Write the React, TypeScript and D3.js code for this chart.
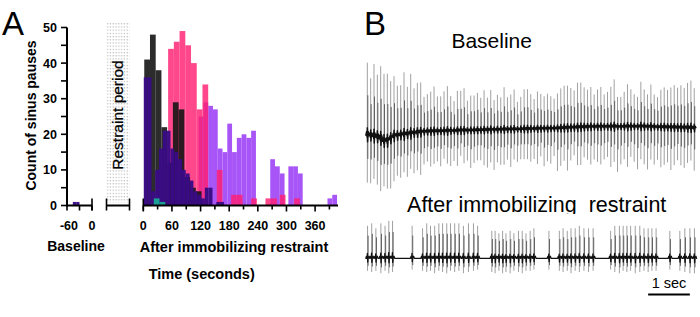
import React from 'react';
import * as d3 from 'd3';

// ---------------- Panel A: histogram data (bin start in seconds, counts) ----------------
const lightPurpleStarts = [116, 126, 136, 146, 156, 166, 176, 186, 196, 206, 216, 226, 266, 276, 286, 304, 314, 324, 386, 396];
const lightPurpleCounts = [25, 29, 28, 27, 16, 15, 23, 15, 19, 20, 19, 21, 13, 11, 9, 11, 11, 9, 2, 3];
const lightPurpleWidth = 10;

const pinkStarts = [52, 64, 76, 88, 100, 112, 124, 154, 184, 196, 226, 256, 268, 286, 316];
const pinkCounts = [44, 46, 49, 45, 40, 27, 34, 10, 3, 3, 2, 2, 2, 3, 2];
const pinkWidth = 12;

const blackStarts = [2, 14, 26, 38, 50, 62, 74, 86, 98, 110];
const blackCounts = [41, 48, 38, 22, 12, 29, 27, 8, 5, 4];
const blackWidth = 12;

const darkPurpleStarts = [1, 9, 17, 25, 33, 41, 49, 57, 65, 73, 81, 89, 97, 105, 113, 121, 129, 137, 153, 161];
const darkPurpleCounts = [36, 36, 4, 10, 16, 21, 21, 16, 15, 13, 10, 9, 7, 4, 3, 2, 5, 5, 1, 1];
const darkPurpleWidth = 8;

const tealStarts = [22, 34];
const tealCounts = [2, 1];
const tealWidth = 12;

const baselineBinStarts = [-46, -38];
const baselineBinCounts = [1, 1];
const baselineBinWidth = 8;

const yTicks = [0, 5, 10, 15, 20, 25, 30, 35, 40, 45, 50];
const yTickLabels = [0, 10, 20, 30, 40, 50];
const baseXTicks = [-60, -30, 0];
const baseXLabels = [-60, 0];
const afterXTicks = [0, 30, 60, 90, 120, 150, 180, 210, 240, 270, 300, 330, 360, 390];
const afterXLabels = [0, 60, 120, 180, 240, 300, 360];

// ---------------- Panel B: ECG data (mV, seconds) ----------------
const baselineRR = 0.08;
const baselineFirstBeat = 0.015;
const baselineTops = [
  2.9, 2.3, 2.9, 2.5, 2.9, 2.7, 2.7, 2.3, 2.4, 2.0,
  2.0, 2.5, 1.9, 2.4, 1.8, 2.0, 2.0, 1.4, 1.5, 1.6,
  1.8, 1.4, 1.4, 1.6, 1.8, 1.4, 1.2, 1.6, 1.6, 1.7,
  1.2, 1.4, 1.4, 1.5, 1.3, 1.6, 1.3, 1.6, 1.2, 1.4,
  1.3, 1.7, 1.3, 1.4, 1.6, 1.1, 1.3, 1.6, 1.6, 1.4,
  1.2, 1.5, 1.4, 1.3, 1.4, 1.3, 1.2, 1.4, 1.6, 1.7,
  1.7, 1.6, 1.5, 1.8, 1.8, 1.6, 1.5, 1.6, 1.3, 1.5,
  1.6, 1.3, 1.4, 1.6, 1.9, 1.2, 1.2, 1.4, 1.7, 1.5,
  1.3, 1.2, 1.8, 1.5, 1.3, 1.7, 1.3, 1.2, 1.5, 1.6,
  1.5, 1.6, 1.7, 1.6, 1.7, 1.6, 1.8, 1.9, 1.6,
];
const baselineBottoms = [
  1.9, 1.9, 1.7, 1.9, 2.1, 1.8, 1.9, 2.0, 1.8, 1.6,
  1.7, 1.5, 1.7, 1.4, 1.6, 1.5, 1.7, 1.3, 1.2, 1.4,
  1.3, 1.2, 1.4, 1.1, 1.3, 1.4, 1.2, 1.4, 1.0, 1.3,
  1.2, 1.5, 1.3, 1.2, 1.2, 1.4, 1.5, 1.3, 1.6, 1.3,
  1.4, 1.4, 1.2, 1.5, 1.2, 1.3, 1.2, 1.2, 1.2, 1.3,
  1.2, 1.4, 1.1, 1.5, 1.3, 1.4, 1.1, 1.7, 1.5, 1.3,
  1.7, 1.3, 1.1, 1.5, 1.5, 1.2, 1.3, 1.5, 1.3, 1.4,
  1.5, 1.3, 1.2, 1.6, 1.4, 1.8, 1.5, 1.3, 1.6, 1.2,
  1.4, 1.7, 1.3, 1.5, 1.7, 1.3, 1.5, 1.3, 1.6, 1.5,
  1.4, 1.7, 1.5, 1.3, 1.5, 1.6, 1.4, 1.3, 1.7,
];
const baselineDriftT = [0, 0.3, 0.45, 0.65, 1.4, 3.0, 4.6, 5.4, 6.6, 7.9];
const baselineDriftV = [-0.2, -0.3, -0.5, -0.25, -0.07, 0, 0.06, 0.12, 0.13, 0.07];

const afterBeatTimes = [
  0.02, 0.12, 0.22, 0.34, 0.44, 0.53, 0.62,
  1.09,
  1.34, 1.44, 1.53, 1.63, 1.73, 1.82, 1.92, 2.01, 2.11, 2.21, 2.32, 2.44, 2.56, 2.66,
  3.0, 3.08, 3.17, 3.26, 3.34, 3.44, 3.53, 3.64, 3.73, 3.82, 3.92, 4.01,
  4.37,
  4.62, 4.71, 4.81, 4.9, 5.0, 5.1, 5.21, 5.32, 5.43,
  5.85, 5.95, 6.06, 6.15, 6.24, 6.33, 6.44, 6.55, 6.65, 6.75, 6.84, 6.94,
  7.27,
  7.51, 7.63, 7.75, 7.86,
];
const afterTops = [
  1.3, 1.4, 1.2, 1.4, 1.3, 1.5, 1.5,
  1.3,
  1.2, 1.4, 1.3, 1.3, 1.4, 1.4, 1.4, 1.4, 1.4, 1.4, 1.3, 1.4, 1.4, 1.3,
  1.1, 1.1, 1.0, 1.1, 1.0, 1.1, 1.0, 1.1, 1.1, 1.0, 1.1, 1.2,
  1.1,
  1.1, 1.2, 1.1, 1.2, 1.2, 1.3, 1.2, 1.2, 1.2,
  1.1, 1.3, 1.3, 1.3, 1.3, 1.3, 1.3, 1.3, 1.2, 1.2, 1.2, 1.2,
  1.1,
  1.1, 1.2, 1.2, 1.2,
];
const afterBottoms = [
  0.5, 0.55, 0.5, 0.6, 0.5, 0.6, 0.55,
  0.45,
  0.5, 0.55, 0.5, 0.6, 0.5, 0.55, 0.6, 0.5, 0.55, 0.5, 0.6, 0.55, 0.5, 0.45,
  0.55, 0.6, 0.5, 0.6, 0.55, 0.6, 0.5, 0.55, 0.6, 0.5, 0.5, 0.45,
  0.45,
  0.5, 0.55, 0.5, 0.6, 0.5, 0.55, 0.5, 0.55, 0.5,
  0.45, 0.55, 0.6, 0.5, 0.55, 0.5, 0.6, 0.55, 0.5, 0.55, 0.5, 0.5,
  0.45,
  0.5, 0.55, 0.6, 0.6,
];
const scaleBarStart = 6.75;
const scaleBarLength = 1;

const FONT = "'Liberation Sans', Arial, Helvetica, sans-serif";

export default function App() {
  // ---------- scales ----------
  const yH = d3.scaleLinear().domain([0, 50]).range([205.5, 27.5]);
  const xBase = d3.scaleLinear().domain([-60, 0]).range([67, 92]);
  const xAfter = d3.scaleLinear().domain([0, 408]).range([143.3, 338]);
  const restraintRange = [106.5, 129.5];
  const axisY = yH(0);

  const xEcg = d3.scaleLinear().domain([0, 7.9]).range([366.7, 696.1]);
  const yEcgBase = d3.scaleLinear().domain([-2, 2]).range([180, 80]);
  const yEcgAfter = d3.scaleLinear().domain([-2, 2]).range([308.3, 208.3]);
  const drift = d3.scaleLinear().domain(baselineDriftT).range(baselineDriftV);

  const bars = (starts: number[], counts: number[], w: number, xs: d3.ScaleLinear<number, number>, fill: string, op: number, key: string) =>
    starts.map((s, i) => counts[i] > 0 ? (
      <rect key={key + i} x={xs(s)} width={xs(s + w) - xs(s)} y={yH(counts[i])} height={yH(0) - yH(counts[i])} fill={fill} fillOpacity={op} />
    ) : null);

  // ---------- ECG baseline ----------
  const baseTimes = baselineTops.map((_, i) => baselineFirstBeat + i * baselineRR);
  const grayBase = d3.path();
  const darkBase = d3.path();
  baseTimes.forEach((t, i) => {
    const d = drift(t);
    const x = xEcg(t);
    grayBase.moveTo(x, yEcgBase(d + baselineTops[i]));
    grayBase.lineTo(x, yEcgBase(d - baselineBottoms[i]));
    darkBase.moveTo(x + 0.5, yEcgBase(d + 0.55 * baselineTops[i]));
    darkBase.lineTo(x + 0.5, yEcgBase(d - 0.5 * baselineBottoms[i]));
  });
  const basePts: [number, number][] = [[0, drift(0)]];
  baseTimes.forEach((t, i) => {
    const d = drift(t);
    const T = baselineTops[i];
    basePts.push([t - 0.035, d], [t - 0.015, d + 0.05 * T], [t - 0.005, d - 0.03 * T], [t, d + 0.1 * T], [t + 0.006, d - 0.09 * T], [t + 0.02, d + 0.05 * T], [t + 0.035, d + 0.02 * T]);
  });
  basePts.push([7.9, drift(7.9)]);
  const baseLine = d3.line<[number, number]>().x(p => xEcg(p[0])).y(p => yEcgBase(p[1]))(basePts) || '';

  // ---------- ECG after restraint ----------
  const grayAfter = d3.path();
  const darkAfter = d3.path();
  afterBeatTimes.forEach((t, i) => {
    const x = xEcg(t);
    grayAfter.moveTo(x, yEcgAfter(afterTops[i]));
    grayAfter.lineTo(x, yEcgAfter(-afterBottoms[i]));
    darkAfter.moveTo(x + 0.6, yEcgAfter(0.7 * afterTops[i]));
    darkAfter.lineTo(x + 0.6, yEcgAfter(-0.6 * afterBottoms[i]));
  });
  const afterPts: [number, number][] = [[0, 0]];
  afterBeatTimes.forEach((t, i) => {
    const T = afterTops[i];
    const B = afterBottoms[i];
    afterPts.push([t - 0.04, 0], [t - 0.025, 0.08], [t - 0.012, 0], [t - 0.004, 0.15 * T], [t + 0.004, -0.3 * B], [t + 0.015, 0.04], [t + 0.035, 0.08], [t + 0.05, 0]);
  });
  afterPts.push([7.9, 0]);
  const afterLine = d3.line<[number, number]>().x(p => xEcg(p[0])).y(p => yEcgAfter(p[1]))(afterPts) || '';

  const capUp = 7;
  const capDown = 5;

  return (
    <svg width={700} height={317} style={{ position: 'absolute', left: 0, top: 0, background: '#fff' }} fontFamily={FONT}>
      <defs>
        <pattern id="dots" width={2.8} height={3.2} patternUnits="userSpaceOnUse">
          <rect x={0.7} y={0.9} width={1} height={1} fill="#9c9c9c" />
        </pattern>
        <clipPath id="clipTitle">
          <rect x={360} y={180} width={340} height={34} />
        </clipPath>
      </defs>
      <rect x={0} y={0} width={700} height={317} fill="#fff" />

      {/* Panel labels */}
      <text x={2} y={35} fontSize={33}>A</text>
      <text x={364} y={35} fontSize={33}>B</text>

      {/* Restraint period box */}
      <rect x={restraintRange[0]} y={22.5} width={restraintRange[1] - restraintRange[0]} height={180} fill="url(#dots)" />
      <text transform={`translate(118,115) rotate(-90)`} textAnchor="middle" dy="0.35em" fontSize={15.5} stroke="#000" strokeWidth={0.25}>Restraint period</text>

      {/* Bars */}
      {bars(lightPurpleStarts, lightPurpleCounts, lightPurpleWidth, xAfter, '#a855f7', 1, 'lp')}
      {bars(pinkStarts, pinkCounts, pinkWidth, xAfter, '#ff1f72', 0.82, 'pk')}
      {bars(blackStarts, blackCounts, blackWidth, xAfter, '#151515', 0.9, 'bk')}
      {bars(darkPurpleStarts, darkPurpleCounts, darkPurpleWidth, xAfter, '#3a0b86', 0.97, 'dp')}
      {bars(tealStarts, tealCounts, tealWidth, xAfter, '#1a9e94', 1, 'tl')}
      {bars(baselineBinStarts, baselineBinCounts, baselineBinWidth, xBase, '#3a0b86', 0.97, 'bb')}

      {/* Y axis */}
      <line x1={67} x2={67} y1={yH(0) + 1} y2={yH(50)} stroke="#000" strokeWidth={2} />
      {yTicks.map(v => (
        <line key={'yt' + v} x1={61} x2={67} y1={yH(v)} y2={yH(v)} stroke="#000" strokeWidth={1.6} />
      ))}
      {yTickLabels.map(v => (
        <text key={'yl' + v} x={57} y={yH(v)} dy="0.36em" textAnchor="end" fontSize={12.5} fontWeight="bold">{v}</text>
      ))}
      <text transform={`translate(31,115.5) rotate(-90)`} textAnchor="middle" dy="0.35em" fontSize={14} fontWeight="bold">Count of sinus pauses</text>

      {/* Baseline x axis segment */}
      <line x1={66} x2={xBase(0)} y1={axisY} y2={axisY} stroke="#000" strokeWidth={2} />
      {baseXTicks.map(v => (
        <line key={'bxt' + v} x1={xBase(v)} x2={xBase(v)} y1={axisY} y2={axisY + capDown} stroke="#000" strokeWidth={1.6} />
      ))}
      <line x1={xBase(0)} x2={xBase(0)} y1={axisY - capUp} y2={axisY + capDown} stroke="#000" strokeWidth={1.6} />
      {baseXLabels.map(v => (
        <text key={'bxl' + v} x={xBase(v) + (v < 0 ? 2 : 0)} y={230} textAnchor="middle" fontSize={12.5} fontWeight="bold">{v}</text>
      ))}

      {/* Restraint segment */}
      <line x1={restraintRange[0]} x2={restraintRange[1]} y1={axisY} y2={axisY} stroke="#000" strokeWidth={2} />
      {restraintRange.map((v, i) => (
        <line key={'rc' + i} x1={v} x2={v} y1={axisY - capUp} y2={axisY + capDown} stroke="#000" strokeWidth={1.6} />
      ))}

      {/* After restraint segment */}
      <line x1={xAfter(0)} x2={xAfter(408)} y1={axisY} y2={axisY} stroke="#000" strokeWidth={2} />
      <line x1={xAfter(0)} x2={xAfter(0)} y1={axisY - capUp} y2={axisY + capDown} stroke="#000" strokeWidth={1.6} />
      {afterXTicks.map(v => (
        <line key={'axt' + v} x1={xAfter(v)} x2={xAfter(v)} y1={axisY} y2={axisY + (v % 60 === 0 ? 6 : 4)} stroke="#000" strokeWidth={1.6} />
      ))}
      {afterXLabels.map(v => (
        <text key={'axl' + v} x={xAfter(v)} y={230} textAnchor="middle" fontSize={12.5} fontWeight="bold">{v}</text>
      ))}

      <text x={76} y={251} textAnchor="middle" fontSize={14} fontWeight="bold">Baseline</text>
      <text x={234} y={251.5} textAnchor="middle" fontSize={14.5} fontWeight="bold">After immobilizing restraint</text>
      <text x={201.7} y={279} textAnchor="middle" fontSize={14.5} fontWeight="bold">Time (seconds)</text>

      {/* Panel B titles */}
      <text x={491.7} y={48} textAnchor="middle" fontSize={21}>Baseline</text>
      <text x={536.7} y={212} textAnchor="middle" fontSize={21.5} clipPath="url(#clipTitle)" style={{ whiteSpace: 'pre' }}>{'After immobilizing  restraint'}</text>

      {/* ECG baseline */}
      <path d={grayBase.toString()} stroke="#a0a0a0" strokeWidth={1} fill="none" />
      <path d={darkBase.toString()} stroke="#555" strokeWidth={0.9} fill="none" />
      <path d={baseLine} stroke="#111" strokeWidth={1.5} fill="none" strokeLinejoin="round" />

      {/* ECG after restraint */}
      <path d={grayAfter.toString()} stroke="#a0a0a0" strokeWidth={1} fill="none" />
      <path d={darkAfter.toString()} stroke="#555" strokeWidth={0.9} fill="none" />
      <path d={afterLine} stroke="#111" strokeWidth={1.3} fill="none" strokeLinejoin="round" />

      {/* Scale bar */}
      <line x1={xEcg(scaleBarStart)} x2={xEcg(scaleBarStart + scaleBarLength)} y1={294.5} y2={294.5} stroke="#000" strokeWidth={2} />
      <text x={(xEcg(scaleBarStart) + xEcg(scaleBarStart + scaleBarLength)) / 2} y={288} textAnchor="middle" fontSize={14.5}>1 sec</text>
    </svg>
  );
}
